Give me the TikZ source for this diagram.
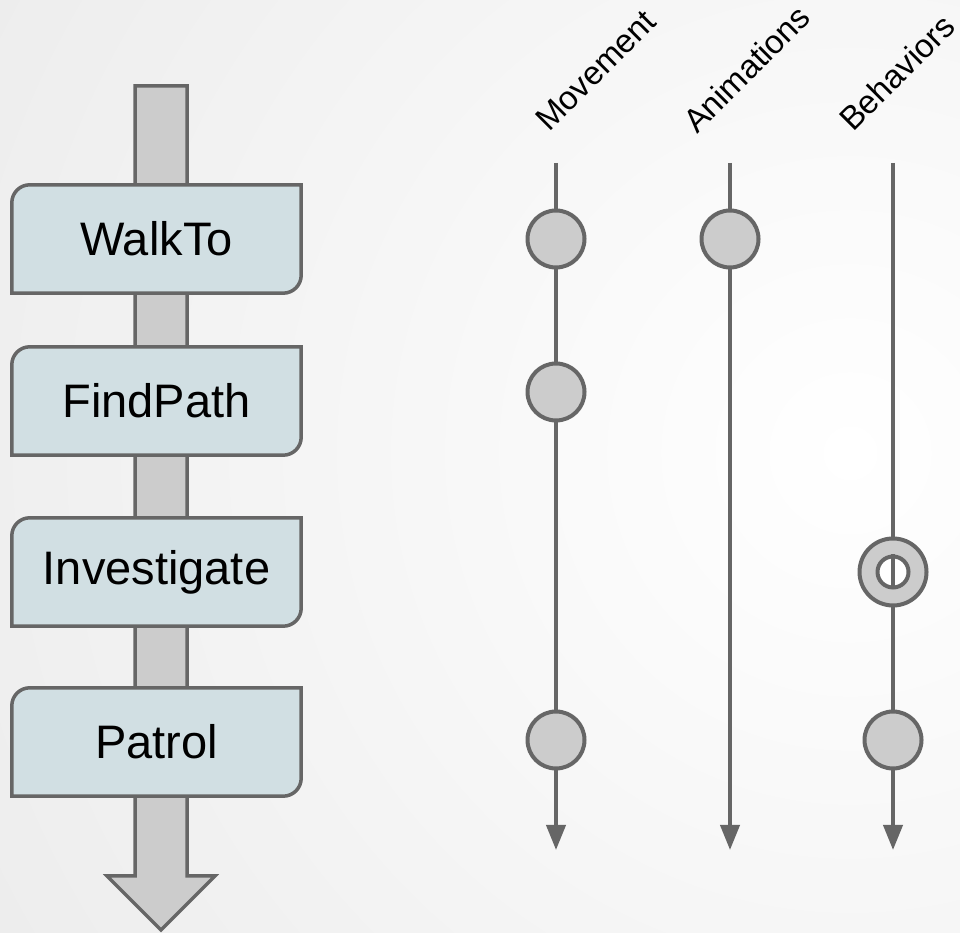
\documentclass[tikz,border=0pt]{standalone}
\usepackage{fontspec}
\setmainfont{Liberation Sans}
\usetikzlibrary{arrows.meta,backgrounds}

\definecolor{edgegray}{HTML}{666666}
\definecolor{fillgray}{HTML}{CCCCCC}
\definecolor{stageblue}{HTML}{D1DFE3}
\definecolor{bggray}{HTML}{DADADA}

\tikzset{
  stage/.style={minimum width=289pt, minimum height=108pt, inner sep=0pt, font=\fontsize{47}{52}\selectfont},
  frame/.style={draw=edgegray, fill=stageblue, line width=3.5pt},
  track/.style={draw=edgegray, line width=4pt, -{Triangle[length=25pt,width=19pt]}},
  event/.style={circle, draw=edgegray, fill=fillgray, line width=4pt, minimum size=57pt, inner sep=0pt},
  hole/.style={circle, draw=edgegray, fill=white, line width=4pt, minimum size=31pt, inner sep=0pt},
  header/.style={rotate=45, anchor=base west, inner sep=0pt, font=\fontsize{33}{40}\selectfont},
}

\begin{document}
\begin{tikzpicture}[x=1pt, y=1pt]
\useasboundingbox (0,0) rectangle (960,933);

% stages
\node[stage] (walkto) at (156.5,694) {WalkTo};
\node[stage] (findpath) at (156.5,532) {FindPath};
\node[stage] (investigate) at (156.5,361) {Investigate};
\node[stage] (patrol) at (156.5,191) {Patrol};

\begin{scope}[on background layer]
  \begin{scope}
    \clip (0,0) rectangle (960,933);
    \shade[inner color=white, outer color=bggray] (850,480) circle (2000);
  \end{scope}
  % big arrow behind the stages
  \filldraw[draw=edgegray, fill=fillgray, line width=3.5pt] (135,847) -- (187,847) -- (187,57) -- (215,57) -- (161,3) -- (107,57) -- (135,57) -- cycle;
  \foreach \s in {walkto,findpath,investigate,patrol}
    \filldraw[frame] (\s.north east) -- ([xshift=18pt]\s.north west) arc[start angle=90, end angle=180, radius=18pt]
      -- (\s.south west) -- ([xshift=-18pt]\s.south east) arc[start angle=270, end angle=360, radius=18pt] -- cycle;
\end{scope}

% tracks
\coordinate (movtop) at (556,770);
\coordinate (movend) at (556,83);
\coordinate (animtop) at (730,770);
\coordinate (animend) at (730,83);
\coordinate (behtop) at (893,770);
\coordinate (behend) at (893,83);
\draw[track] (movtop) -- (movend);
\draw[track] (animtop) -- (animend);
\draw[track] (behtop) -- (behend);

\node[header] (movement) at (549,800) {Movement};
\node[header] (animations) at (697,798) {Animations};
\node[header] (behaviors) at (853,800) {Behaviors};

% events
\node[event] (walkmov) at (556,694) {};
\node[event] (walkanim) at (730,694) {};
\node[event] (findmov) at (556,541) {};
\node[event, minimum size=67pt] (investbeh) at (893,361) {};
\node[hole] (investhole) at (investbeh) {};
\draw[edgegray, line width=4pt] (investhole.north) -- (investhole.south);
\node[event] (patrolmov) at (556,193) {};
\node[event] (patrolbeh) at (893,193) {};
\end{tikzpicture}
\end{document}
